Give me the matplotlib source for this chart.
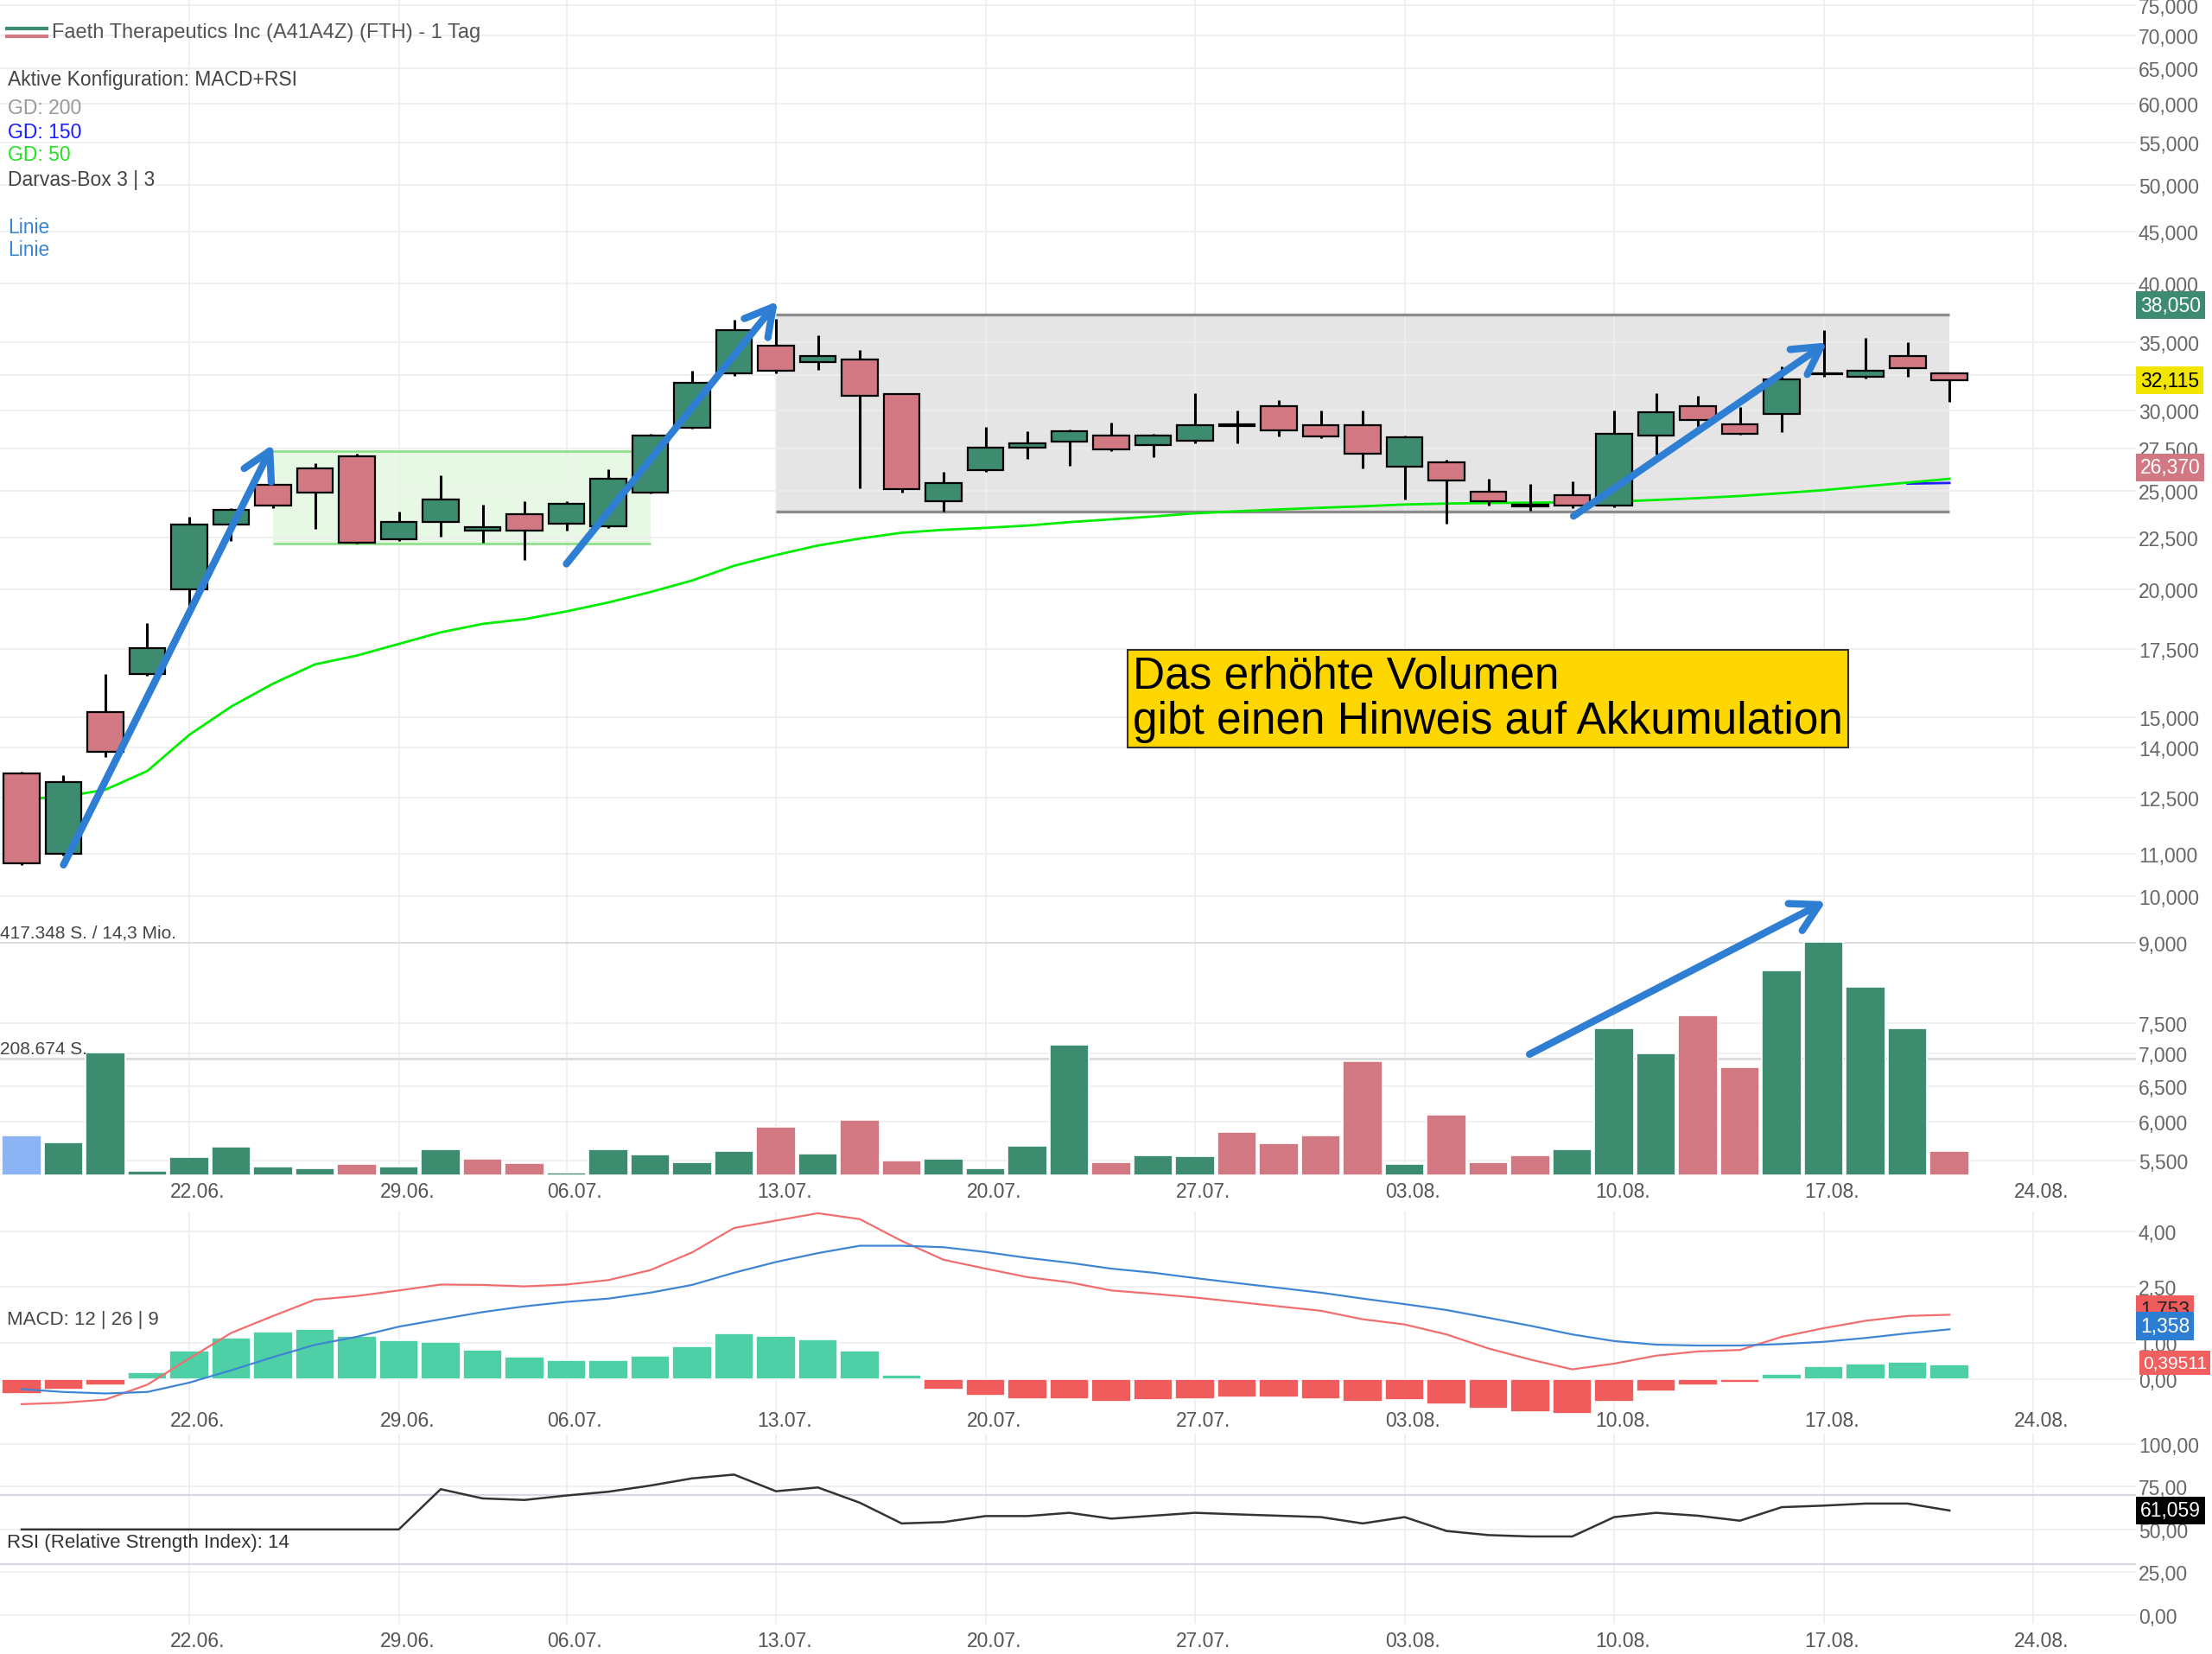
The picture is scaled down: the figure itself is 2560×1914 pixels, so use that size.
import matplotlib
matplotlib.use("Agg")
import matplotlib.pyplot as plt
from matplotlib import transforms
from matplotlib.ticker import FixedLocator, NullLocator, FuncFormatter

plt.rcParams['font.family'] = ['Liberation Sans', 'DejaVu Sans']

# ---- data (prices in EUR) ----
opens = [13.21, 11.00, 15.15, 16.53, 20.00, 23.17, 25.35, 26.30, 27.02, 22.40,
         23.33, 22.85, 23.71, 23.22, 23.07, 24.90, 28.84, 32.65, 34.73, 33.45,
         33.68, 31.11, 24.44, 26.21, 27.56, 27.95, 28.33, 27.76, 28.02, 28.98,
         30.29, 29.00, 29.00, 26.40, 26.68, 24.96, 24.22, 24.75, 24.19, 28.33,
         30.29, 29.09, 29.77, 32.54, 32.35, 33.95, 32.61]
highs = [13.26, 13.14, 16.53, 18.55, 23.58, 24.06, 25.60, 26.60, 27.19, 23.85,
         25.91, 24.23, 24.43, 24.42, 26.25, 28.45, 32.80, 36.83, 36.90, 35.55,
         34.40, 31.19, 26.13, 28.91, 28.63, 28.75, 29.19, 28.44, 31.21, 30.00,
         30.71, 30.00, 30.00, 28.35, 26.82, 25.70, 25.38, 25.54, 30.00, 31.21,
         31.00, 30.25, 33.14, 35.95, 35.32, 34.98, 32.71]
lows = [10.73, 10.97, 13.70, 16.46, 19.20, 22.34, 24.06, 22.93, 22.21, 22.34,
        22.53, 22.24, 21.37, 22.87, 22.99, 24.84, 28.77, 32.45, 32.65, 32.87,
        25.18, 24.93, 23.85, 26.09, 26.90, 26.47, 27.35, 26.99, 27.86, 27.86,
        28.31, 28.20, 26.30, 24.51, 23.24, 24.19, 23.92, 24.04, 24.08, 27.16,
        28.91, 28.38, 28.57, 32.35, 32.23, 32.35, 30.57]
closes = [10.78, 12.95, 13.85, 17.51, 23.19, 23.95, 24.20, 24.90, 22.24, 23.33,
          24.54, 23.05, 22.85, 24.29, 25.69, 28.35, 31.95, 36.00, 32.81, 33.95,
          31.00, 25.10, 25.46, 27.58, 27.87, 28.61, 27.47, 28.33, 29.00, 29.09,
          28.69, 28.31, 27.20, 28.22, 25.62, 24.44, 24.16, 24.19, 28.44, 29.90,
          29.38, 28.47, 32.19, 32.61, 32.82, 33.00, 32.115]

# volume in shares
volumes = [70900, 58000, 220000, 7700, 33000, 51000, 15000, 12800, 19500, 15000,
           46000, 28700, 22000, 4000, 46700, 37500, 23000, 43600, 87000, 38000,
           99000, 26000, 29000, 12800, 52000, 233000, 22600, 35500, 33400, 77600,
           56500, 71400, 204000, 20000, 108000, 22600, 36000, 46000, 262000, 218000,
           286000, 193000, 366000, 417348, 337000, 262000, 43000]
vol_dirs = ['b', 'g', 'g', 'g', 'g', 'g', 'g', 'g', 'r', 'g',
            'g', 'r', 'r', 'g', 'g', 'g', 'g', 'g', 'r', 'g',
            'r', 'r', 'g', 'g', 'g', 'g', 'r', 'g', 'g', 'r',
            'r', 'r', 'r', 'g', 'r', 'r', 'r', 'g', 'g', 'g',
            'r', 'r', 'g', 'g', 'g', 'g', 'r']

gd50 = [12.45, 12.52, 12.72, 13.27, 14.40, 15.35, 16.17, 16.89, 17.23, 17.69,
        18.16, 18.51, 18.71, 19.04, 19.43, 19.89, 20.42, 21.11, 21.63, 22.10,
        22.45, 22.75, 22.90, 23.00, 23.12, 23.30, 23.45, 23.60, 23.77, 23.88,
        23.98, 24.07, 24.15, 24.25, 24.30, 24.33, 24.35, 24.37, 24.41, 24.50,
        24.60, 24.72, 24.88, 25.05, 25.27, 25.48, 25.70]
gd150_idx = [45, 46]
gd150 = [25.42, 25.46]

macd_line = [-0.667, -0.628, -0.542, -0.14, 0.567, 1.26, 1.72, 2.16, 2.26, 2.41,
             2.57, 2.56, 2.52, 2.57, 2.69, 2.96, 3.44, 4.10, 4.30, 4.50,
             4.34, 3.75, 3.24, 3.00, 2.77, 2.63, 2.41, 2.32, 2.22, 2.10,
             1.98, 1.86, 1.63, 1.49, 1.22, 0.84, 0.54, 0.276, 0.43, 0.645,
             0.76, 0.80, 1.156, 1.39, 1.59, 1.72, 1.753]
signal_line = [-0.26, -0.337, -0.377, -0.337, -0.085, 0.25, 0.606, 0.94, 1.156, 1.43,
               1.63, 1.825, 1.98, 2.10, 2.19, 2.35, 2.56, 2.89, 3.18, 3.42,
               3.62, 3.62, 3.58, 3.45, 3.29, 3.16, 3.00, 2.89, 2.745, 2.61,
               2.48, 2.35, 2.19, 2.04, 1.88, 1.67, 1.455, 1.22, 1.04, 0.944,
               0.92, 0.92, 0.96, 1.02, 1.125, 1.25, 1.358]
macd_hist = [-0.40, -0.275, -0.15, 0.204, 0.77, 1.13, 1.29, 1.376, 1.17, 1.05,
             1.006, 0.81, 0.605, 0.527, 0.527, 0.645, 0.888, 1.25, 1.18, 1.085,
             0.77, 0.126, -0.283, -0.44, -0.52, -0.52, -0.59, -0.558, -0.519, -0.472,
             -0.472, -0.519, -0.59, -0.558, -0.676, -0.794, -0.873, -0.928, -0.59, -0.314,
             -0.149, -0.079, 0.157, 0.354, 0.432, 0.48, 0.39511]

rsi_values = [50.0, 50.0, 50.0, 50.0, 50.0, 50.0, 50.0, 50.0, 50.0, 50.0,
              73.5, 68.1, 67.2, 69.8, 72.0, 75.6, 79.8, 82.0, 72.3, 74.5,
              65.6, 53.5, 54.3, 57.8, 57.8, 59.7, 56.3, 58.0, 59.7, 58.8,
              58.0, 57.2, 53.5, 57.2, 49.1, 46.7, 45.9, 45.9, 57.2, 59.7,
              58.0, 55.1, 63.0, 63.9, 65.1, 65.1, 61.059]

date_labels = ["22.06.", "29.06.", "06.07.", "13.07.", "20.07.",
               "27.07.", "03.08.", "10.08.", "17.08.", "24.08."]
date_pos = [4, 9, 13, 18, 23, 28, 33, 38, 43, 48]

price_ticks = [5.5, 6, 6.5, 7, 7.5, 9, 10, 11, 12.5, 14, 15, 17.5, 20, 22.5, 25,
               27.5, 30, 32.5, 35, 40, 45, 50, 55, 60, 65, 70, 75]
macd_ticks = [0, 1, 2.5, 4]
rsi_ticks = [0, 25, 50, 75, 100]

darvas_box = (18, 46, 23.88, 37.26)     # from idx, to idx, low, high
green_box = (6, 15, 22.18, 27.37)
trend_arrows = [((1.0, 10.73), (6.0, 27.78)),
                ((13.0, 21.2), (18.04, 38.4)),
                ((37.03, 23.62), (43.08, 34.98))]
vol_arrow = ((35.98, 216200), (43.05, 489500))

price_badges = [(38.05, "38,050", '#3d8c6f', 'white'),
                (32.115, "32,115", '#f2e600', 'black'),
                (26.37, "26,370", '#d27882', 'white')]

# ---- style ----
GREEN = '#3d8c6f'
RED = '#d27882'
BLUE_VOL = '#8ab4f4'
HIST_G = '#4fcfa6'
HIST_R = '#f05c5c'
ARROW_C = '#2e7fd3'
GRID = '#eeeeee'
TICK_C = '#666666'
W, H = 2560, 1915
idx = list(range(len(closes)))


def de(v, nd):
    s = f"{v:,.{nd}f}"
    return s.replace(",", "X").replace(".", ",").replace("X", ".")


def rect(left, top, right, bottom):
    return [left / W, 1 - bottom / H, (right - left) / W, (bottom - top) / H]


def fy(y):
    return 1 - y / H


fig = plt.figure(figsize=(W / 100, H / 100), dpi=100)
fig.patch.set_facecolor('white')

ax = fig.add_axes(rect(0, 0, 2472, 1361))
axv = fig.add_axes(rect(0, 1090.7, 2472, 1361))
axm = fig.add_axes(rect(0, 1403, 2472, 1638))
axr = fig.add_axes(rect(0, 1660, 2472, 1880))

for a in (ax, axv, axm, axr):
    a.set_xlim(-0.515, 50.45)
    for s in a.spines.values():
        s.set_visible(False)
    a.set_xticks(date_pos)
    a.tick_params(axis='x', length=0, labelbottom=False)
    a.set_axisbelow(True)

for a in (ax, axm, axr):
    a.yaxis.tick_right()
    a.tick_params(axis='y', length=0, pad=2, labelsize=16.5, labelcolor=TICK_C)
    a.grid(True, color=GRID, lw=1.2)

# ---- price panel ----
ax.set_yscale('log')
ax.set_ylim(5.318, 76.06)
ax.yaxis.set_major_locator(FixedLocator(price_ticks))
ax.yaxis.set_minor_locator(NullLocator())
ax.yaxis.set_major_formatter(FuncFormatter(lambda v, p: de(v, 3)))

x0, x1, lo, hi = darvas_box
ax.fill_between([x0, x1], lo, hi, color='#999999', alpha=0.25, lw=0, zorder=0.2)
ax.hlines([lo, hi], x0, x1, color='#8c8c8c', lw=2.4, zorder=1)
x0, x1, lo, hi = green_box
ax.fill_between([x0, x1], lo, hi, color='#7ddc6f', alpha=0.18, lw=0, zorder=0.2)
ax.hlines([lo, hi], x0, x1, color='#8ee28a', lw=2.0, zorder=1)

ax.plot(idx, gd50, color='#00ee00', lw=2.0, zorder=2)
ax.plot(gd150_idx, gd150, color='#2020ff', lw=2.0, zorder=1.9)

body_lo = [min(o, c) for o, c in zip(opens, closes)]
body_h = [abs(c - o) for o, c in zip(opens, closes)]
body_c = [GREEN if c >= o else RED for o, c in zip(opens, closes)]
ax.vlines(idx, lows, highs, color='black', lw=2.2, zorder=2.8)
ax.bar(idx, body_h, bottom=body_lo, width=0.86, color=body_c,
       edgecolor='black', linewidth=1.6, zorder=3)

arrow_props = dict(arrowstyle='->,head_length=0.75,head_width=0.42', lw=6,
                   color=ARROW_C, shrinkA=0, shrinkB=0, mutation_scale=30,
                   capstyle='round', joinstyle='round')
for start, end in trend_arrows:
    ax.annotate('', xy=end, xytext=start, arrowprops=arrow_props, zorder=6)

bt = transforms.blended_transform_factory(ax.transAxes, ax.transData)
for val, txt, bg, fg in price_badges:
    ax.text(1 + 5 / 2472, val, txt, transform=bt, ha='left', va='center',
            fontsize=16.5, color=fg, clip_on=False, zorder=10,
            bbox=dict(boxstyle='square,pad=0.2', fc=bg, ec='none'))

# ---- volume overlay ----
axv.set_zorder(3)
axv.patch.set_alpha(0)
axv.set_ylim(0, 417348)
axv.set_yticks([])
vcol = {'g': GREEN, 'r': RED, 'b': BLUE_VOL}
axv.bar(idx, volumes, width=0.94, color=[vcol[d] for d in vol_dirs],
        edgecolor='white', linewidth=1.2, zorder=3)
axv.axhline(417348, color='#dddddd', lw=2.2, zorder=1)
axv.axhline(208674, color='#dddddd', lw=2.2, zorder=1)
axv.annotate('', xy=vol_arrow[1], xytext=vol_arrow[0], arrowprops=arrow_props,
             annotation_clip=False, zorder=6)

# ---- MACD panel ----
axm.set_ylim(-0.95, 4.545)
axm.set_yticks(macd_ticks)
axm.yaxis.set_major_formatter(FuncFormatter(lambda v, p: de(v, 2)))
axm.bar(idx, macd_hist, width=0.94,
        color=[HIST_G if h >= 0 else HIST_R for h in macd_hist],
        edgecolor='white', linewidth=1.2, zorder=2)
axm.plot(idx, macd_line, color='#f26d6d', lw=1.6, zorder=3)
axm.plot(idx, signal_line, color='#3f85d4', lw=1.6, zorder=3)
bm = transforms.blended_transform_factory(axm.transAxes, axm.transData)
axm.text(1 + 5 / 2472, macd_line[-1] + 0.14, de(macd_line[-1], 3), transform=bm,
         ha='left', va='center', fontsize=16.5, color='#222222', clip_on=False,
         zorder=10, bbox=dict(boxstyle='square,pad=0.2', fc=HIST_R, ec='none'))
axm.text(1 + 5 / 2472, signal_line[-1] + 0.09, de(signal_line[-1], 3), transform=bm,
         ha='left', va='center', fontsize=16.5, color='white', clip_on=False,
         zorder=11, bbox=dict(boxstyle='square,pad=0.2', fc='#2d7dd2', ec='none'))
axm.text(1 + 8 / 2472, macd_hist[-1] + 0.06, de(macd_hist[-1], 5), transform=bm,
         ha='left', va='center', fontsize=15, color='white', clip_on=False,
         zorder=10, bbox=dict(boxstyle='square,pad=0.2', fc='#f06060', ec='none'))

# ---- RSI panel ----
axr.set_ylim(-5.04, 105.9)
axr.set_yticks(rsi_ticks)
axr.yaxis.set_major_formatter(FuncFormatter(lambda v, p: de(v, 2)))
axr.axhline(70, color='#d8d8e4', lw=1.6, zorder=1)
axr.axhline(30, color='#d8d8e4', lw=1.6, zorder=1)
axr.plot(idx, rsi_values, color='#333333', lw=1.8, zorder=3)
br = transforms.blended_transform_factory(axr.transAxes, axr.transData)
axr.text(1 + 5 / 2472, rsi_values[-1], de(rsi_values[-1], 3), transform=br,
         ha='left', va='center', fontsize=16.5, color='white', clip_on=False,
         zorder=10, bbox=dict(boxstyle='square,pad=0.2', fc='black', ec='none'))

# ---- date labels under each panel ----
for a, ypx in ((ax, 1380), (axm, 1645), (axr, 1900)):
    tr = transforms.blended_transform_factory(a.transData, fig.transFigure)
    for pos, lab in zip(date_pos, date_labels):
        fig.text(pos + 0.2, fy(ypx), lab, transform=tr, ha='center', va='center',
                 fontsize=16.5, color='#555555')

# ---- header texts ----
fig.lines.append(plt.Line2D([8 / W, 54 / W], [fy(34), fy(34)], color=GREEN, lw=3,
                            transform=fig.transFigure))
fig.lines.append(plt.Line2D([8 / W, 54 / W], [fy(43), fy(43)], color=RED, lw=3,
                            transform=fig.transFigure))
fig.text(60 / W, fy(38), "Faeth Therapeutics Inc (A41A4Z) (FTH) - 1 Tag",
         fontsize=17, color='#555555', va='center')
legend_rows = [("Aktive Konfiguration: MACD+RSI", '#444444', 92),
               ("GD: 200", '#999999', 126),
               ("GD: 150", '#1a1aff', 153),
               ("GD: 50", '#22e022', 180),
               ("Darvas-Box 3 | 3", '#444444', 208),
               ("Linie", '#3a86d0', 263),
               ("Linie", '#3a86d0', 290)]
for txt, col, ypx in legend_rows:
    fig.text(9 / W, fy(ypx), txt, fontsize=16.5, color=col, va='center')

fig.text(0, fy(1080), "417.348 S. / 14,3 Mio.", fontsize=15, color='#444444', va='center')
fig.text(0, fy(1214), "208.674 S.", fontsize=15, color='#444444', va='center')
fig.text(8 / W, fy(1528), "MACD: 12 | 26 | 9", fontsize=16, color='#444444', va='center')
fig.text(8 / W, fy(1786), "RSI (Relative Strength Index): 14", fontsize=16,
         color='#333333', va='center')

fig.text(1311 / W, fy(759), "Das erhöhte Volumen\ngibt einen Hinweis auf Akkumulation",
         fontsize=37, color='black', va='top', ha='left', linespacing=1.08,
         bbox=dict(boxstyle='square,pad=0.12', fc='#ffd700', ec='#333333', lw=1.5))

fig.savefig("out.png", dpi=100)
